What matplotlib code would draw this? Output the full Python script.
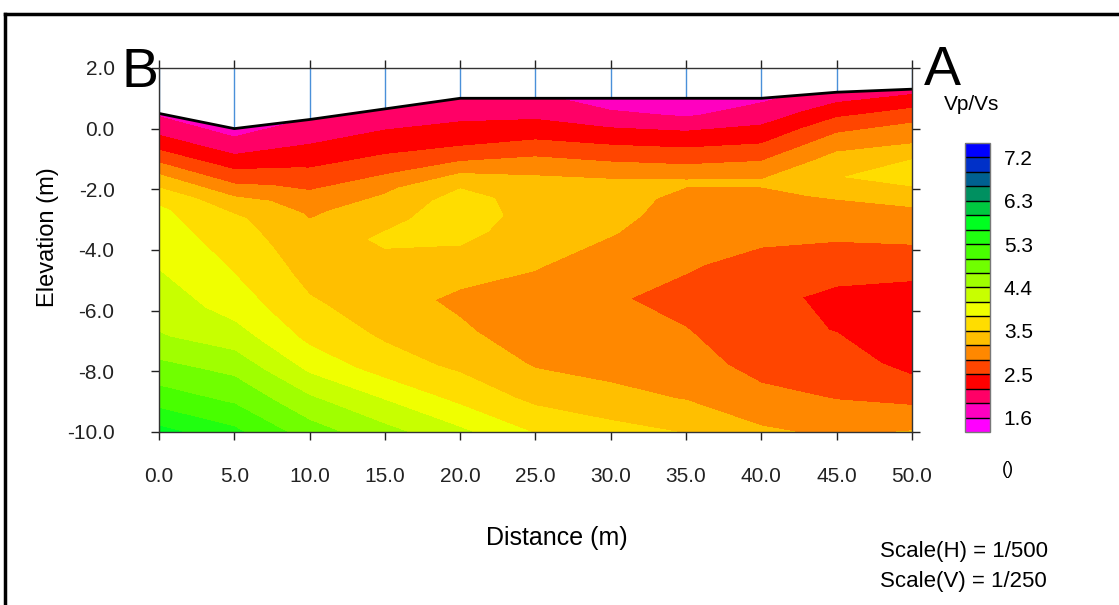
import numpy as np
import matplotlib
matplotlib.use('Agg')
import matplotlib.pyplot as plt
from matplotlib.lines import Line2D

plt.rcParams['font.family'] = ['Liberation Sans', 'DejaVu Sans']

# ---------------- data ----------------
distance = [0, 5, 10, 15, 20, 25, 30, 35, 40, 45, 50]
surface_elev = [0.5, 0.0, 0.3, 0.65, 1.0, 1.0, 1.0, 1.0, 1.0, 1.2, 1.3]
bottom_elev = -10.0
# nominal depth of each model row below the surface (m, stretched to bottom)
nominal_depth = [0, 0.5, 1.0, 1.5, 2.0, 2.5, 3.0, 3.5, 4, 5, 6, 7, 8, 9, 10]

# Vp/Vs per station, from surface (top) to -10 m (bottom)
vpvs_x00 = [1.86, 2.11, 2.41, 2.80, 3.22, 3.58, 3.82, 3.89, 3.96, 4.10, 4.26, 4.42, 4.81, 5.19, 5.75]
vpvs_x05 = [1.76, 2.03, 2.30, 2.63, 2.96, 3.35, 3.53, 3.60, 3.67, 3.81, 3.98, 4.28, 4.65, 4.99, 5.40]
vpvs_x10 = [1.93, 2.11, 2.30, 2.51, 2.73, 2.94, 3.12, 3.21, 3.27, 3.38, 3.52, 3.70, 4.03, 4.47, 4.85]
vpvs_x15 = [1.96, 2.16, 2.36, 2.57, 2.82, 3.11, 3.27, 3.39, 3.52, 3.35, 3.30, 3.42, 3.62, 4.08, 4.50]
vpvs_x20 = [1.95, 2.14, 2.34, 2.56, 2.92, 3.38, 3.58, 3.62, 3.55, 3.34, 3.08, 3.21, 3.40, 3.69, 4.15]
vpvs_x25 = [2.00, 2.16, 2.39, 2.68, 3.00, 3.24, 3.33, 3.35, 3.32, 3.18, 3.02, 2.96, 3.13, 3.39, 3.75]
vpvs_x30 = [1.70, 1.99, 2.29, 2.59, 2.90, 3.20, 3.27, 3.25, 3.18, 3.00, 2.88, 2.93, 3.05, 3.25, 3.58]
vpvs_x35 = [1.65, 1.87, 2.23, 2.54, 2.85, 3.19, 3.08, 3.02, 2.97, 2.88, 2.74, 2.86, 3.00, 3.14, 3.45]
vpvs_x40 = [1.85, 2.07, 2.32, 2.61, 2.91, 3.19, 3.08, 3.02, 2.95, 2.72, 2.62, 2.65, 2.72, 2.95, 3.20]
vpvs_x45 = [2.02, 2.35, 2.72, 3.02, 3.28, 3.44, 3.20, 3.05, 2.93, 2.71, 2.46, 2.52, 2.70, 2.83, 3.10]
vpvs_x50 = [2.10, 2.49, 2.85, 3.09, 3.44, 3.66, 3.36, 3.12, 2.98, 2.72, 2.40, 2.30, 2.42, 2.75, 3.17]

cbar_tick_labels = ['1.6', '2.5', '3.5', '4.4', '5.3', '6.3', '7.2']
x_tick_labels = ['0.0', '5.0', '10.0', '15.0', '20.0', '25.0', '30.0', '35.0', '40.0', '45.0', '50.0']
y_tick_values = [2, 0, -2, -4, -6, -8, -10]
y_tick_labels = ['2.0', '0.0', '-2.0', '-4.0', '-6.0', '-8.0', '-10.0']

# colour classes, low to high
class_colors = ['#FF00FF', '#FF00C0', '#FF0066', '#FF0000', '#FF4500', '#FF8800',
                '#FFBF00', '#FFDD00', '#F0FF00', '#C8FF00', '#A0FF00', '#70FF00',
                '#48FF00', '#20FF10', '#00FF20', '#00C840', '#009060', '#006090',
                '#0030C8', '#0000FF']
level_min, level_max = 1.2889, 7.5111

# ---------------- grid ----------------
X1 = np.array(distance, dtype=float)
topo = np.array(surface_elev)
nd = np.array(nominal_depth, dtype=float)
V = np.column_stack([vpvs_x00, vpvs_x05, vpvs_x10, vpvs_x15, vpvs_x20, vpvs_x25,
                     vpvs_x30, vpvs_x35, vpvs_x40, vpvs_x45, vpvs_x50])
X = np.tile(X1, (len(nd), 1))
Z = bottom_elev + (topo[None, :] - bottom_elev) * (1 - nd[:, None] / nd.max())
levels = np.linspace(level_min, level_max, len(class_colors) + 1)

# ---------------- figure ----------------
fig = plt.figure(figsize=(11.19, 6.05), dpi=100)
ax = fig.add_axes([0.1421, 0.2860, 0.6729, 0.6017])
cs = ax.contourf(X, Z, V, levels=levels, colors=class_colors)

ax.vlines(X1, topo, 2.0, color='#4a90d9', lw=1.0, zorder=3)
ax.plot(X1, topo, color='black', lw=2.0, zorder=4)

ax.set_xlim(0, 50)
ax.set_ylim(-10, 2)
ax.set_xticks(X1)
ax.set_xticklabels(x_tick_labels)
ax.set_yticks(y_tick_values)
ax.set_yticklabels(y_tick_labels)
ax.tick_params(axis='both', direction='out', length=6, width=1, colors='#222222',
               labelsize=15, top=True, right=True)
ax.tick_params(axis='x', pad=19)
ax.tick_params(axis='y', pad=26)
for s in ax.spines.values():
    s.set_color('#333333')
    s.set_linewidth(1.0)
    s.set_zorder(5)

ax.set_xlabel('Distance (m)', fontsize=18)
ax.xaxis.set_label_coords(0.5286, -0.258)
ax.set_ylabel('Elevation (m)', fontsize=17)
ax.yaxis.set_label_coords(-0.133, 0.536)

# big letters
fig.text(140 / 1119, 1 - 73 / 605, 'B', fontsize=40, ha='center', va='center')
fig.text(942 / 1119, 1 - 71 / 605, 'A', fontsize=40, ha='center', va='center')

# colorbar
cax = fig.add_axes([0.8624, 0.2860, 0.0223, 0.4777])
cb = fig.colorbar(cs, cax=cax, drawedges=True)
cb.set_ticks(levels[1::3])
cb.set_ticklabels(cbar_tick_labels)
cb.ax.tick_params(length=0, labelsize=15, pad=10)
cb.outline.set_edgecolor('#777777')
cb.outline.set_linewidth(1.0)
cb.dividers.set_color('black')
cb.dividers.set_linewidth(1.0)

fig.text(972 / 1119, 1 - 105 / 605, 'Vp/Vs', fontsize=15, ha='center', va='center')
fig.text(1008 / 1119, 1 - 470 / 605, '()', fontsize=13, ha='center', va='center')
fig.text(880 / 1119, 1 - 552 / 605, 'Scale(H) = 1/500', fontsize=16, ha='left', va='center')
fig.text(880 / 1119, 1 - 581 / 605, 'Scale(V) = 1/250', fontsize=16, ha='left', va='center')

# outer frame (left and top edges visible)
fig.add_artist(Line2D([4.5 / 1119, 4.5 / 1119], [0, 1 - 13.5 / 605], color='black', lw=2.5))
fig.add_artist(Line2D([4.5 / 1119, 1.0], [1 - 13.5 / 605, 1 - 13.5 / 605], color='black', lw=2.5))

fig.savefig('out.png', dpi=100)
